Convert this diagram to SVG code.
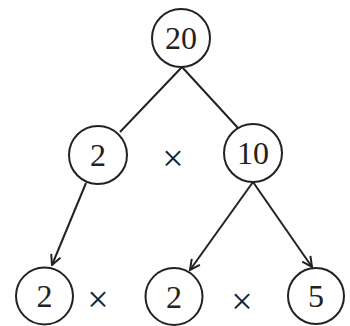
<svg xmlns="http://www.w3.org/2000/svg" width="350" height="326" viewBox="0 0 350 326">
<style>
.n circle{fill:#fff;stroke:#222;stroke-width:2}
.n text,.op{font-family:"Liberation Serif","Times New Roman",Times,serif;font-size:32px;fill:#222;text-anchor:middle}
.op{font-size:38px}
#edges line{stroke:#222;stroke-width:2;fill:none}
</style>
<defs>
<marker id="ah" viewBox="0 0 12 12" refX="11" refY="6" markerWidth="12" markerHeight="12" markerUnits="userSpaceOnUse" orient="auto">
<path d="M1,1 L11,6 L1,11" fill="none" stroke="#222" stroke-width="2"/>
</marker>
</defs>
<rect width="350" height="326" fill="#fff"/>
<g id="edges">
<line x1="182" y1="67" x2="120" y2="132"/>
<line x1="182" y1="67" x2="238" y2="128"/>
<line x1="86" y1="183" x2="52" y2="265" marker-end="url(#ah)"/>
<line x1="253" y1="182" x2="190" y2="270" marker-end="url(#ah)"/>
<line x1="253" y1="182" x2="312" y2="267" marker-end="url(#ah)"/>
</g>
<g id="n20" class="n"><circle cx="181" cy="38" r="29"/><text x="181" y="49">20</text></g>
<g id="n2a" class="n"><circle cx="98" cy="155" r="29"/><text x="98" y="166">2</text></g>
<g id="n10" class="n"><circle cx="253" cy="153" r="29"/><text x="253" y="164">10</text></g>
<g id="n2b" class="n"><circle cx="44.5" cy="296" r="28.5"/><text x="44.5" y="307">2</text></g>
<g id="n2c" class="n"><circle cx="174" cy="296.5" r="28.5"/><text x="174" y="307.5">2</text></g>
<g id="n5" class="n"><circle cx="316" cy="296" r="28"/><text x="316" y="307">5</text></g>
<text class="op" x="173" y="171">×</text>
<text class="op" x="98" y="312">×</text>
<text class="op" x="242" y="314">×</text>
</svg>
